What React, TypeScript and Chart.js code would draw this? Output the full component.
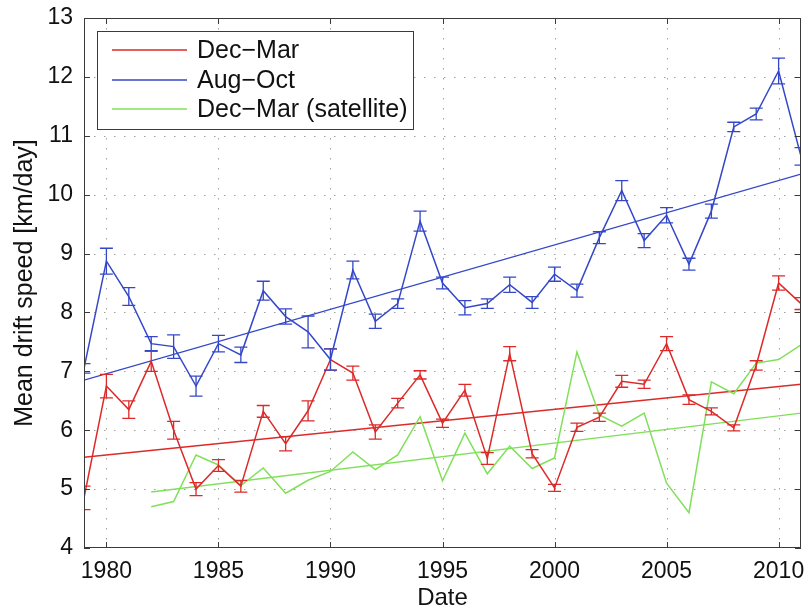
import { useEffect, useRef } from "react";
import { Chart, registerables } from "chart.js";

Chart.register(...registerables);

// Yearly mean drift speeds [km/day] with their uncertainties
const years = [
  1979, 1980, 1981, 1982, 1983, 1984, 1985, 1986, 1987, 1988, 1989,
  1990, 1991, 1992, 1993, 1994, 1995, 1996, 1997, 1998, 1999, 2000,
  2001, 2002, 2003, 2004, 2005, 2006, 2007, 2008, 2009, 2010, 2011,
];
const decMar = [
  4.85, 6.75, 6.35, 7.17, 6.0, 5.0, 5.4, 5.05, 6.32, 5.77, 6.33,
  7.2, 6.97, 5.97, 6.46, 6.94, 6.12, 6.68, 5.52, 7.3, 5.6, 5.02,
  6.05, 6.22, 6.83, 6.78, 7.47, 6.52, 6.32, 6.04, 7.1, 8.5, 8.15,
];
const decMarErr = [
  0.2, 0.2, 0.15, 0.17, 0.15, 0.11, 0.1, 0.1, 0.1, 0.12, 0.17,
  0.18, 0.12, 0.12, 0.08, 0.07, 0.07, 0.1, 0.1, 0.12, 0.07, 0.06,
  0.07, 0.07, 0.1, 0.07, 0.12, 0.08, 0.06, 0.05, 0.08, 0.12, 0.1,
];
const augOct = [
  7.05, 8.87, 8.27, 7.47, 7.42, 6.75, 7.47, 7.28, 8.37, 7.93, 7.67,
  7.2, 8.72, 7.85, 8.15, 9.55, 8.5, 8.08, 8.15, 8.47, 8.17, 8.65,
  8.37, 9.27, 10.07, 9.22, 9.65, 8.82, 9.72, 11.15, 11.37, 12.1, 10.65,
];
const augOctErr = [
  0.08, 0.22, 0.15, 0.12, 0.2, 0.17, 0.14, 0.13, 0.16, 0.13, 0.27,
  0.18, 0.15, 0.12, 0.08, 0.17, 0.1, 0.12, 0.08, 0.13, 0.1, 0.12,
  0.11, 0.1, 0.17, 0.12, 0.13, 0.1, 0.12, 0.08, 0.1, 0.22, 0.15,
];
const satYears = [
  1982, 1983, 1984, 1985, 1986, 1987, 1988, 1989, 1990, 1991,
  1992, 1993, 1994, 1995, 1996, 1997, 1998, 1999, 2000, 2001,
  2002, 2003, 2004, 2005, 2006, 2007, 2008, 2009, 2010, 2011,
];
const decMarSat = [
  4.7, 4.79, 5.58, 5.41, 5.06, 5.36, 4.93, 5.15, 5.3, 5.63,
  5.33, 5.58, 6.23, 5.14, 5.95, 5.26, 5.73, 5.35, 5.53, 7.33,
  6.26, 6.07, 6.29, 5.1, 4.6, 6.82, 6.62, 7.14, 7.2, 7.45,
];

// Linear trends (end points)
const trendYears = [1979, 2011];
const decMarTrend = [5.54, 6.78];
const augOctTrend = [6.85, 10.35];
const satTrendYears = [1982, 2011];
const decMarSatTrend = [4.95, 6.29];

const xTicks = [1980, 1985, 1990, 1995, 2000, 2005, 2010];
const yTicks = [4, 5, 6, 7, 8, 9, 10, 11, 12, 13];
const seriesLabels = ["Dec\u2212Mar", "Aug\u2212Oct", "Dec\u2212Mar (satellite)"];

const RED = "#dc2a2a";
const BLUE = "#3447c8";
const GREEN = "#80e05a";
const FRAME = "#3a3a3a";
const FONT = "'Liberation Sans', Arial, Helvetica, sans-serif";

const toPoints = (xs: number[], ys: number[]) => xs.map((x, i) => ({ x, y: ys[i] }));

const matlabAxes = {
  id: "matlabAxes",
  beforeDatasetsDraw(chart: any) {
    const { ctx, chartArea: a, scales } = chart;
    ctx.save();
    ctx.strokeStyle = "#a0a0a0";
    ctx.lineWidth = 1;
    ctx.setLineDash([1.5, 8.5]);
    ctx.beginPath();
    for (const t of xTicks) {
      const px = Math.round(scales.x.getPixelForValue(t)) + 0.5;
      ctx.moveTo(px, a.top);
      ctx.lineTo(px, a.bottom);
    }
    for (const t of yTicks) {
      const py = Math.round(scales.y.getPixelForValue(t)) + 0.5;
      if (py <= a.top + 1 || py >= a.bottom - 1) continue;
      ctx.moveTo(a.left, py);
      ctx.lineTo(a.right, py);
    }
    ctx.stroke();
    ctx.restore();
  },
  afterDatasetsDraw(chart: any) {
    const { ctx, chartArea: a, scales } = chart;
    ctx.save();
    ctx.beginPath();
    ctx.rect(a.left, a.top, a.right - a.left, a.bottom - a.top);
    ctx.clip();
    const cap = 6.5;
    chart.data.datasets.forEach((ds: any) => {
      if (!ds.errors) return;
      ctx.strokeStyle = ds.borderColor;
      ctx.lineWidth = 1.3;
      ctx.beginPath();
      ds.data.forEach((p: any, i: number) => {
        const e = ds.errors[i];
        const px = scales.x.getPixelForValue(p.x);
        const hi = scales.y.getPixelForValue(p.y + e);
        const lo = scales.y.getPixelForValue(p.y - e);
        ctx.moveTo(px, hi);
        ctx.lineTo(px, lo);
        ctx.moveTo(px - cap, hi);
        ctx.lineTo(px + cap, hi);
        ctx.moveTo(px - cap, lo);
        ctx.lineTo(px + cap, lo);
      });
      ctx.stroke();
    });
    ctx.restore();
  },
  afterDraw(chart: any) {
    const { ctx, chartArea: a, scales } = chart;
    ctx.save();
    // axes box with inward tick marks
    ctx.strokeStyle = FRAME;
    ctx.lineWidth = 1;
    ctx.strokeRect(a.left + 0.5, a.top + 0.5, a.right - a.left - 1, a.bottom - a.top - 1);
    const tl = 6;
    ctx.beginPath();
    for (const t of xTicks) {
      const px = Math.round(scales.x.getPixelForValue(t)) + 0.5;
      ctx.moveTo(px, a.top);
      ctx.lineTo(px, a.top + tl);
      ctx.moveTo(px, a.bottom);
      ctx.lineTo(px, a.bottom - tl);
    }
    for (const t of yTicks) {
      const py = Math.round(scales.y.getPixelForValue(t)) + 0.5;
      ctx.moveTo(a.left, py);
      ctx.lineTo(a.left + tl, py);
      ctx.moveTo(a.right, py);
      ctx.lineTo(a.right - tl, py);
    }
    ctx.stroke();

    // legend box
    const bx = a.left + 13;
    const by = a.top + 13;
    const bw = 316;
    const bh = 98;
    ctx.fillStyle = "#ffffff";
    ctx.fillRect(bx, by, bw, bh);
    ctx.strokeStyle = FRAME;
    ctx.strokeRect(bx + 0.5, by + 0.5, bw, bh);
    const colors = [RED, BLUE, GREEN];
    const rows = [19, 49, 78];
    ctx.font = `25px ${FONT}`;
    ctx.textBaseline = "middle";
    ctx.textAlign = "left";
    seriesLabels.forEach((label, i) => {
      const ry = by + rows[i];
      ctx.strokeStyle = colors[i];
      ctx.lineWidth = 1.5;
      ctx.beginPath();
      ctx.moveTo(bx + 15, ry);
      ctx.lineTo(bx + 90, ry);
      ctx.stroke();
      ctx.fillStyle = "#111111";
      ctx.fillText(label, bx + 100, ry + 1);
    });
    ctx.restore();
  },
};

export default function App() {
  const canvasRef = useRef<HTMLCanvasElement | null>(null);

  useEffect(() => {
    const canvas = canvasRef.current;
    if (!canvas) return;
    const line = (color: string, width = 1.5) => ({
      borderColor: color,
      backgroundColor: color,
      borderWidth: width,
      pointRadius: 0,
      pointHoverRadius: 0,
      tension: 0,
      fill: false,
    });
    const chart = new Chart(canvas, {
      type: "line",
      data: {
        datasets: [
          { label: seriesLabels[0], data: toPoints(years, decMar), errors: decMarErr, ...line(RED) } as any,
          { label: seriesLabels[1], data: toPoints(years, augOct), errors: augOctErr, ...line(BLUE) } as any,
          { label: seriesLabels[2], data: toPoints(satYears, decMarSat), ...line(GREEN) },
          { label: "trend1", data: toPoints(trendYears, decMarTrend), ...line(RED, 1.4) },
          { label: "trend2", data: toPoints(trendYears, augOctTrend), ...line(BLUE, 1.4) },
          { label: "trend3", data: toPoints(satTrendYears, decMarSatTrend), ...line(GREEN, 1.4) },
        ],
      },
      options: {
        animation: false,
        responsive: false,
        events: [],
        layout: { padding: { left: 0, top: 18, right: 7, bottom: 0 } },
        plugins: {
          legend: { display: false },
          tooltip: { enabled: false },
        },
        scales: {
          x: {
            type: "linear",
            min: 1979,
            max: 2011,
            grid: { display: false, drawTicks: false },
            border: { display: false },
            afterBuildTicks: (s: any) => {
              s.ticks = xTicks.map((v) => ({ value: v }));
            },
            afterFit: (s: any) => {
              s.height = 68;
              s.paddingLeft = 0;
              s.paddingRight = 0;
            },
            ticks: {
              padding: 10,
              maxRotation: 0,
              autoSkip: false,
              color: "#111111",
              font: { family: FONT, size: 23 },
              callback: (v: any) => String(v),
            },
            title: {
              display: true,
              text: "Date",
              color: "#111111",
              font: { family: FONT, size: 24, lineHeight: 1.2 },
              padding: { top: 0, bottom: 3 },
            },
          },
          y: {
            type: "linear",
            min: 4,
            max: 13,
            grid: { display: false, drawTicks: false },
            border: { display: false },
            afterBuildTicks: (s: any) => {
              s.ticks = yTicks.map((v) => ({ value: v }));
            },
            afterFit: (s: any) => {
              s.width = 84;
              s.paddingTop = 0;
              s.paddingBottom = 0;
            },
            ticks: {
              padding: 11,
              autoSkip: false,
              color: "#111111",
              font: { family: FONT, size: 23 },
              callback: (v: any) => String(v),
            },
            title: {
              display: true,
              text: "Mean drift speed [km/day]",
              color: "#111111",
              font: { family: FONT, size: 25, lineHeight: 1.2 },
              padding: { top: 10, bottom: 0 },
            },
          },
        },
      },
      plugins: [matlabAxes],
    });
    return () => chart.destroy();
  }, []);

  return (
    <div style={{ position: "fixed", left: 0, top: 0, width: 808, height: 616, background: "#ffffff" }}>
      <canvas ref={canvasRef} width={808} height={616} style={{ display: "block" }} />
    </div>
  );
}
